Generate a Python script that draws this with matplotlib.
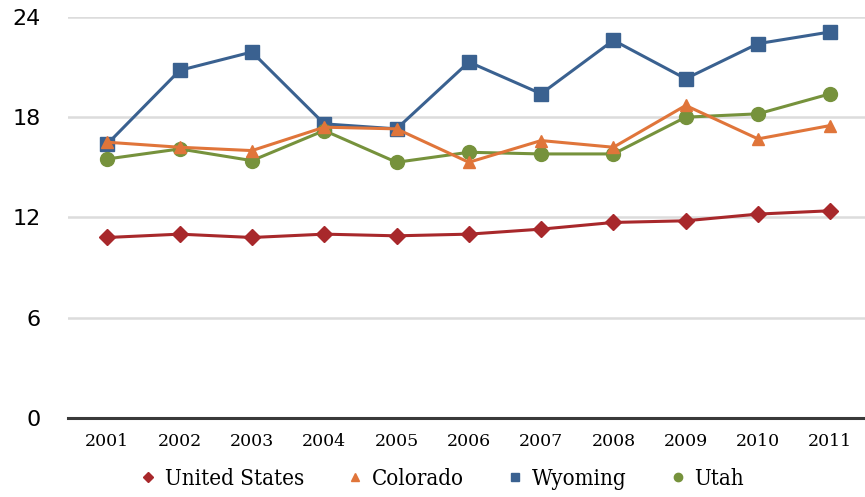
import matplotlib.pyplot as plt

years = [2001, 2002, 2003, 2004, 2005, 2006, 2007, 2008, 2009, 2010, 2011]
united_states = [10.8, 11.0, 10.8, 11.0, 10.9, 11.0, 11.3, 11.7, 11.8, 12.2, 12.4]
colorado = [16.5, 16.2, 16.0, 17.4, 17.3, 15.3, 16.6, 16.2, 18.7, 16.7, 17.5]
wyoming = [16.4, 20.8, 21.9, 17.6, 17.3, 21.3, 19.4, 22.6, 20.3, 22.4, 23.1]
utah = [15.5, 16.1, 15.4, 17.2, 15.3, 15.9, 15.8, 15.8, 18.0, 18.2, 19.4]
yticks = [0, 6, 12, 18, 24]

fig = plt.figure(figsize=(8.65, 4.97), dpi=100)
ax = fig.add_axes([0.079, 0.159, 0.921, 0.807])

# series: (label, values, colour, marker, size)
series = [
    ("United States", united_states, "#a8282b", "D", 8),
    ("Colorado", colorado, "#e0753a", "^", 9),
    ("Wyoming", wyoming, "#3a6190", "s", 10.5),
    ("Utah", utah, "#76923c", "o", 10),
]
# draw order: wyoming under the others like the reference
for lab, vals, col, mk, ms in [series[2], series[3], series[1], series[0]]:
    ax.plot(years, vals, color=col, marker=mk, markersize=ms, lw=2.2, label=lab)

ax.set_xlim(2000.46, 2011.48)
ax.set_ylim(0, 24)
ax.set_yticks(yticks)
ax.set_yticklabels([str(t) for t in yticks], fontsize=16, family="DejaVu Sans")
ax.set_xticks(years)
ax.set_xticklabels([str(y) for y in years], fontsize=12.5, family="DejaVu Serif")
ax.tick_params(axis="both", length=0)
ax.tick_params(axis="y", pad=20)
ax.tick_params(axis="x", pad=11)
ax.grid(axis="y", color="#dcdcdc", lw=1.8)
ax.set_axisbelow(True)
for s in ["top", "right", "left"]:
    ax.spines[s].set_visible(False)
ax.spines["bottom"].set_color("#3a3a3a")
ax.spines["bottom"].set_linewidth(2.2)

handles, labels = ax.get_legend_handles_labels()
order = [labels.index(s[0]) for s in series]
leg = ax.legend([handles[i] for i in order], [labels[i] for i in order],
                loc="upper center", bbox_to_anchor=(0.47, -0.075), ncol=4,
                frameon=False, handlelength=0.6, handletextpad=0.45, columnspacing=2.0,
                prop={"family": "DejaVu Serif", "size": 16, "stretch": "condensed"},
                markerscale=0.6)
for h in leg.legend_handles:
    h.set_linestyle("None")

fig.savefig("out.png", dpi=100)
